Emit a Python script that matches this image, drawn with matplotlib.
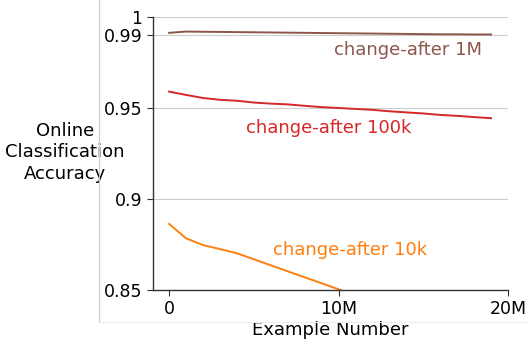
import matplotlib
matplotlib.use("Agg")
import matplotlib.pyplot as plt
from matplotlib.lines import Line2D

# Example number (millions) and accuracy
steps_m = list(range(0, 20))
acc_1m = [0.9913, 0.9920, 0.9919, 0.9918, 0.9917, 0.9916, 0.9915, 0.9914, 0.9913, 0.9912,
          0.9911, 0.9910, 0.9909, 0.9908, 0.9907, 0.9906, 0.9905, 0.9905, 0.9904, 0.9904]
acc_100k = [0.9590, 0.9572, 0.9555, 0.9545, 0.9540, 0.9530, 0.9524, 0.9520, 0.9512, 0.9505,
            0.9500, 0.9495, 0.9490, 0.9482, 0.9476, 0.9470, 0.9462, 0.9457, 0.9450, 0.9444]
steps_10k_m = list(range(0, 12))
acc_10k = [0.8863, 0.8784, 0.8747, 0.8725, 0.8702, 0.8669, 0.8636, 0.8603, 0.8570, 0.8537,
           0.8504, 0.8470]

series = [
    ("change-after 1M", steps_m, acc_1m, "#8c564b", (14.1e6, 0.9818)),
    ("change-after 100k", steps_m, acc_100k, "#d62728", (9.4e6, 0.9390)),
    ("change-after 10k", steps_10k_m, acc_10k, "#ff7f0e", (10.7e6, 0.8720)),
]

yticks = [0.85, 0.9, 0.95, 0.99, 1.0]
ytick_labels = ["0.85", "0.9", "0.95", "0.99", "1"]
xticks = [0, 10e6, 20e6]
xtick_labels = ["0", "10M", "20M"]

fig = plt.figure(figsize=(5.28, 3.4), dpi=100)
ax = fig.add_axes([0.2898, 0.147, 0.6723, 0.803])

for name, xs, ys, color, (tx, ty) in series:
    ax.plot([x * 1e6 for x in xs], ys, color=color, lw=1.4)
    ax.text(tx, ty, name, color=color, fontsize=13, ha="center", va="center")

ax.set_xlim(-0.95e6, 20e6)
ax.set_ylim(0.85, 1.0)
ax.set_yticks(yticks)
ax.set_yticklabels(ytick_labels)
ax.set_xticks(xticks)
ax.set_xticklabels(xtick_labels)
ax.tick_params(labelsize=12.5, length=4, color="#333333")
ax.grid(axis="y", color="#cccccc", lw=0.8)
ax.set_axisbelow(True)
for s in ["top", "right"]:
    ax.spines[s].set_visible(False)
for s in ["left", "bottom"]:
    ax.spines[s].set_color("#333333")
    ax.spines[s].set_linewidth(1.0)

ax.set_xlabel("Example Number", fontsize=13, va="center")
ax.xaxis.set_label_coords(0.5, -0.147)
ax.set_ylabel("Online\nClassification\nAccuracy", fontsize=13, rotation=0,
              ha="center", va="center", linespacing=1.25)
ax.yaxis.set_label_coords(-0.248, 0.505)

# faint outer frame
fig.add_artist(Line2D([99 / 528, 99 / 528], [18 / 340, 1.0], color="#cccccc", lw=0.8))
fig.add_artist(Line2D([99 / 528, 1.0], [18 / 340, 18 / 340], color="#eeeeee", lw=0.8))

fig.savefig("out.png", dpi=100)
